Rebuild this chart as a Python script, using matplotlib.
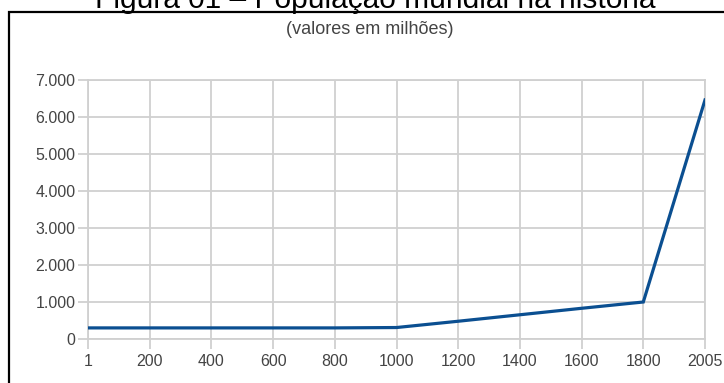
import matplotlib
matplotlib.use("Agg")
import matplotlib.pyplot as plt
from matplotlib.patches import Rectangle

plt.rcParams['font.family'] = ['Liberation Sans', 'DejaVu Sans']

years = ["1", "200", "400", "600", "800", "1000", "1200", "1400", "1600", "1800", "2005"]
population = [300, 300, 300, 300, 300, 310, 480, 655, 830, 1000, 6460]
y_ticks = [0, 1000, 2000, 3000, 4000, 5000, 6000, 7000]
y_labels = ["0", "1.000", "2.000", "3.000", "4.000", "5.000", "6.000", "7.000"]

W, H = 724, 383
fig = plt.figure(figsize=(W / 100, H / 100), dpi=100)

# outer frame
fig.patches.append(Rectangle((9 / W, -0.2), 1.5, 1 - 12 / H + 0.2, transform=fig.transFigure,
                             fill=False, edgecolor='black', linewidth=1.6))

fig.text(375 / W, 1 - 8 / H, "Figura 01 – População mundial na história",
         ha='center', va='baseline', fontsize=21.5, color='black')
fig.text(370 / W, 1 - 30 / H, "(valores em milhões)", ha='center', va='center',
         fontsize=13, color='#444444')

ax = fig.add_axes([88 / W, 1 - 339 / H, (705 - 88) / W, (339 - 80) / H])
x = list(range(len(years)))
ax.plot(x, population, color='#0b4f91', linewidth=2.3, solid_joinstyle='miter', zorder=3)

ax.set_xlim(0, len(years) - 1)
ax.set_ylim(0, 7000)
ax.set_xticks(x)
ax.set_xticklabels(years)
ax.set_yticks(y_ticks)
ax.set_yticklabels(y_labels)
ax.grid(True, color='#d0d0d0', linewidth=1.3)
for s in ax.spines.values():
    s.set_color('#d0d0d0')
    s.set_linewidth(1.3)
ax.tick_params(axis='both', colors='#d0d0d0', labelcolor='#444444', length=7, width=1.3,
               labelsize=11.5)
ax.tick_params(axis='x', pad=4)
ax.tick_params(axis='y', pad=2)

fig.savefig("out.png", dpi=100)
